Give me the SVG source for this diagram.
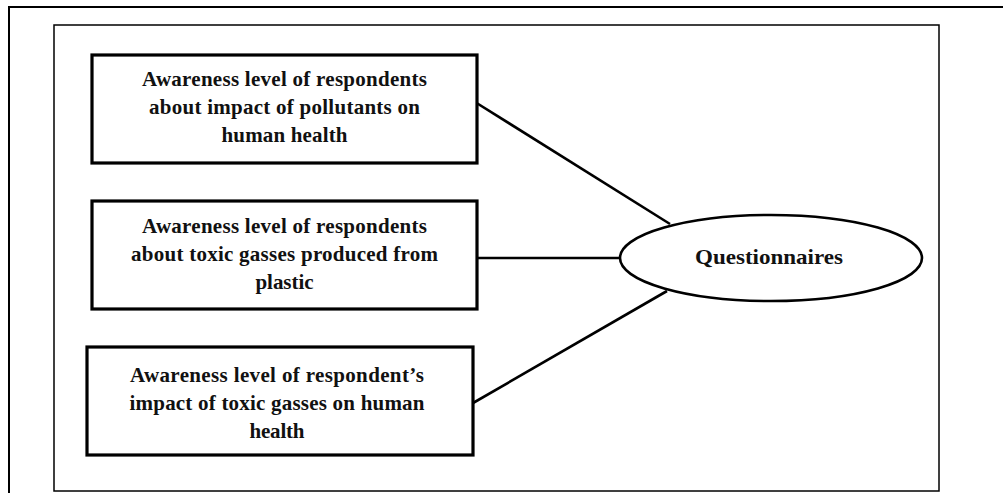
<svg xmlns="http://www.w3.org/2000/svg" width="1003" height="493" viewBox="0 0 1003 493">
<style>
.frame{fill:none;stroke:#000}
.box{fill:#fff;stroke:#000;stroke-width:3.2}
.conn{stroke:#000;stroke-width:2.6;fill:none}
.t{font-family:"Liberation Serif","Times New Roman",serif;font-weight:bold;font-size:21px;fill:#111;text-anchor:middle}
.q{font-family:"Liberation Serif","Times New Roman",serif;font-weight:bold;font-size:22px;fill:#111;text-anchor:middle}
</style>
<rect width="1003" height="493" fill="#fff"/>
<g id="frames">
<path class="frame" d="M9,493 V7 H1003" stroke-width="2"/>
<rect class="frame" x="54" y="25" width="885" height="466" stroke-width="1.5" stroke="#333"/>
</g>
<g id="connectors">
<line class="conn" x1="475" y1="102" x2="670" y2="224"/>
<line class="conn" x1="475" y1="258" x2="620" y2="258"/>
<line class="conn" x1="473" y1="403" x2="667" y2="291"/>
</g>
<g id="box1">
<rect class="box" x="92" y="55" width="385" height="108"/>
<text class="t" x="284.5" y="86" textLength="285" lengthAdjust="spacing">Awareness level of respondents</text>
<text class="t" x="284.5" y="114" textLength="271" lengthAdjust="spacing">about impact of pollutants on</text>
<text class="t" x="284.5" y="142" textLength="126" lengthAdjust="spacing">human health</text>
</g>
<g id="box2">
<rect class="box" x="92" y="201" width="385" height="108"/>
<text class="t" x="284.5" y="233" textLength="285" lengthAdjust="spacing">Awareness level of respondents</text>
<text class="t" x="284.5" y="261" textLength="307" lengthAdjust="spacing">about toxic gasses produced from</text>
<text class="t" x="284.5" y="289" textLength="58" lengthAdjust="spacing">plastic</text>
</g>
<g id="box3">
<rect class="box" x="87" y="347" width="386" height="108"/>
<text class="t" x="277" y="382" textLength="294" lengthAdjust="spacing">Awareness level of respondent’s</text>
<text class="t" x="277" y="410" textLength="295" lengthAdjust="spacing">impact of toxic gasses on human</text>
<text class="t" x="277" y="438" textLength="55" lengthAdjust="spacing">health</text>
</g>
<g id="questionnaires">
<ellipse cx="771" cy="258" rx="151" ry="43" fill="#fff" stroke="#000" stroke-width="2.6"/>
<text class="q" x="769" y="264" textLength="148" lengthAdjust="spacingAndGlyphs">Questionnaires</text>
</g>
</svg>
